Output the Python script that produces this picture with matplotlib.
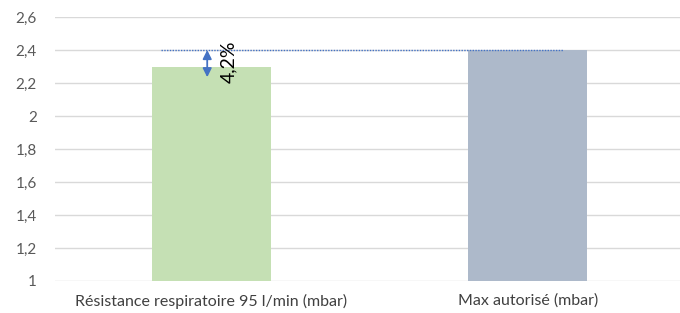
import matplotlib
matplotlib.use("Agg")
import matplotlib.pyplot as plt

categories = ["Résistance respiratoire 95 l/min (mbar)", "Max autorisé (mbar)"]
values = [2.3, 2.4]
bar_colors = ["#c5e0b4", "#adb9ca"]
yticks = [1, 1.2, 1.4, 1.6, 1.8, 2, 2.2, 2.4, 2.6]
ytick_labels = ["1", "1,2", "1,4", "1,6", "1,8", "2", "2,2", "2,4", "2,6"]
diff_label = "4,2%"

plt.rcParams['font.family'] = ['Lato', 'DejaVu Sans']

fig = plt.figure(figsize=(6.8, 3.13), dpi=100)
ax = fig.add_axes([55/680, 1-281/313, 1-55/680, (281-17)/313])

x = list(range(len(categories)))
ax.bar(x, values, width=0.376, color=bar_colors, zorder=2, bottom=0)
ax.set_xlim(-0.494, 1.481)
ax.set_ylim(1, 2.6)
ax.set_yticks(yticks)
ax.set_yticklabels(ytick_labels, color="#595959", fontsize=11)
ax.set_xticks(x)
ax.set_xticklabels(categories, color="#404040", fontsize=11.5)
ax.tick_params(length=0, pad=9)
ax.tick_params(axis='y', pad=13)
for s in ax.spines.values():
    s.set_visible(False)
ax.grid(axis='y', color="#d9d9d9", linewidth=1, zorder=0)

# dotted reference line at max value
ax.plot([-0.16, 1.11], [values[1], values[1]], color="#4472c4", linestyle=(0, (1, 1)), linewidth=1, zorder=3)
# double arrow showing the difference
ax.annotate("", xy=(-0.013, 2.235), xytext=(-0.013, values[1]),
            arrowprops=dict(arrowstyle="<|-|>", color="#4472c4", lw=1.3,
                            mutation_scale=13, shrinkA=0, shrinkB=0), zorder=4)
ax.text(0.055, 2.33, diff_label, rotation=90,
        ha="center", va="center", fontsize=14, color="black", zorder=5)

fig.savefig("out.png", dpi=100)
